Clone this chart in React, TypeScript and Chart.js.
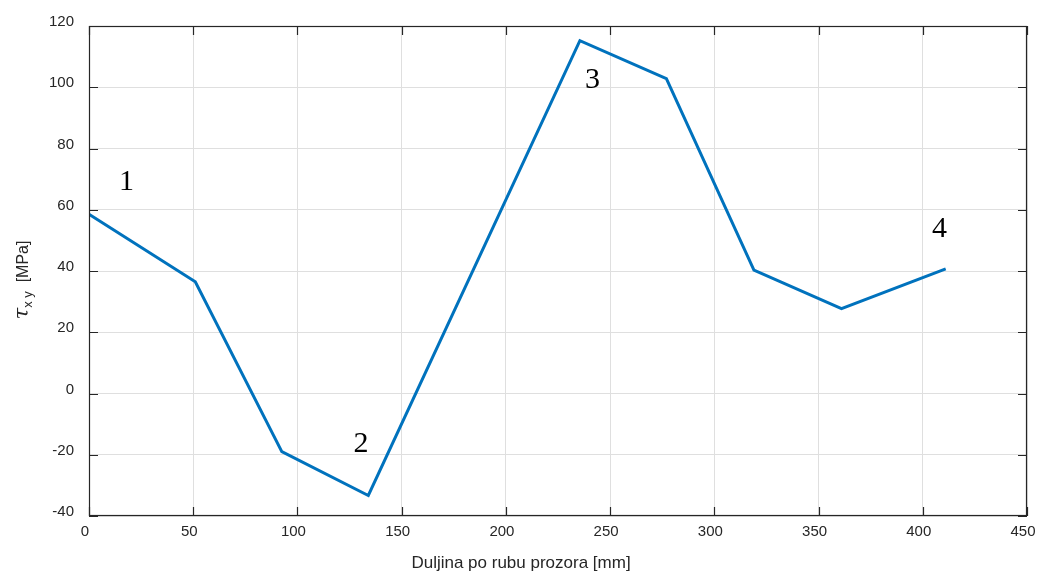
import React, { useEffect, useRef } from 'react';
import { Chart, registerables } from 'chart.js';

Chart.register(...registerables);

// Data
const positionsMm = [0, 51, 92.5, 134, 235.5, 277, 319, 361, 411];
const tauXyMPa = [58.5, 36.5, -19, -33.3, 115.2, 102.8, 40.3, 27.7, 40.7];

// Axis ticks
const xTicks = [0, 50, 100, 150, 200, 250, 300, 350, 400, 450];
const yTicks = [-40, -20, 0, 20, 40, 60, 80, 100, 120];

// Point annotations (in data coordinates)
const markerLabels = ['1', '2', '3', '4'];
const markerX = [18, 130.5, 241.5, 408];
const markerY = [69, -16.5, 102.3, 53.8];

const xTitle = 'Duljina po rubu prozora [mm]';

const AXIS_COLOR = '#262626';
const GRID_COLOR = '#dfdfdf';
const LINE_COLOR = '#0072BD';

const decorPlugin = {
  id: 'decor',
  afterDraw(chart: any) {
    const { ctx, chartArea: a, scales } = chart;
    const x = scales.x;
    const y = scales.y;
    ctx.save();
    // box
    ctx.strokeStyle = AXIS_COLOR;
    ctx.lineWidth = 1.2;
    ctx.strokeRect(a.left + 0.5, a.top + 0.5, a.right - a.left - 1, a.bottom - a.top - 1);
    // inward tick marks on all sides
    const tl = 9;
    ctx.lineWidth = 1.2;
    ctx.beginPath();
    for (const v of xTicks) {
      const px = Math.round(x.getPixelForValue(v)) + 0.5;
      ctx.moveTo(px, a.bottom);
      ctx.lineTo(px, a.bottom - tl);
      ctx.moveTo(px, a.top);
      ctx.lineTo(px, a.top + tl);
    }
    for (const v of yTicks) {
      const py = Math.round(y.getPixelForValue(v)) + 0.5;
      ctx.moveTo(a.left, py);
      ctx.lineTo(a.left + tl, py);
      ctx.moveTo(a.right, py);
      ctx.lineTo(a.right - tl, py);
    }
    ctx.stroke();

    // annotations
    ctx.fillStyle = '#000';
    ctx.font = '30px "Liberation Serif", serif';
    ctx.textAlign = 'center';
    ctx.textBaseline = 'middle';
    markerLabels.forEach((t, i) => {
      ctx.fillText(t, x.getPixelForValue(markerX[i]), y.getPixelForValue(markerY[i]));
    });

    // x title
    ctx.fillStyle = AXIS_COLOR;
    ctx.font = '17px "Liberation Sans", Arial, sans-serif';
    ctx.textAlign = 'center';
    ctx.textBaseline = 'middle';
    ctx.fillText(xTitle, 521, 563);

    // y title: tau_{x y} [MPa]
    ctx.translate(28, 280);
    ctx.rotate(-Math.PI / 2);
    ctx.textAlign = 'left';
    ctx.textBaseline = 'alphabetic';
    const tauFont = 'italic 21px "DejaVu Serif", serif';
    const subFont = '13px "Liberation Sans", Arial, sans-serif';
    const mainFont = '16px "Liberation Sans", Arial, sans-serif';
    ctx.font = tauFont;
    const wTau = ctx.measureText('τ').width;
    ctx.font = subFont;
    const wSub = ctx.measureText('x y').width;
    ctx.font = mainFont;
    const wMain = ctx.measureText('  [MPa]').width;
    let cx = -(wTau + wSub + wMain) / 2;
    ctx.font = tauFont;
    ctx.fillText('τ', cx, 0);
    cx += wTau;
    ctx.font = subFont;
    ctx.fillText('x y', cx, 4);
    cx += wSub;
    ctx.font = mainFont;
    ctx.fillText('  [MPa]', cx, 0);
    ctx.restore();
  },
};

export default function App() {
  const canvasRef = useRef<HTMLCanvasElement | null>(null);

  useEffect(() => {
    if (!canvasRef.current) return;
    const chart = new Chart(canvasRef.current, {
      type: 'line',
      data: {
        datasets: [
          {
            data: positionsMm.map((v, i) => ({ x: v, y: tauXyMPa[i] })),
            borderColor: LINE_COLOR,
            borderWidth: 3,
            pointRadius: 0,
            tension: 0,
            fill: false,
          },
        ],
      },
      options: {
        animation: false,
        responsive: false,
        events: [],
        layout: { padding: { top: 26, right: 10, left: 0, bottom: 0 } },
        plugins: {
          legend: { display: false },
          tooltip: { enabled: false },
        },
        scales: {
          x: {
            type: 'linear',
            min: 0,
            max: 450,
            afterBuildTicks: (s: any) => {
              s.ticks = xTicks.map((v) => ({ value: v }));
            },
            afterFit: (s: any) => {
              s.height = 56;
              s.paddingLeft = 0;
              s.paddingRight = 0;
            },
            grid: { color: GRID_COLOR, lineWidth: 1, drawTicks: false },
            border: { display: false },
            ticks: {
              autoSkip: false,
              maxRotation: 0,
              padding: 7,
              labelOffset: -4,
              color: AXIS_COLOR,
              font: { family: '"Liberation Sans", Arial, sans-serif', size: 15 },
            },
          },
          y: {
            type: 'linear',
            min: -40,
            max: 120,
            afterBuildTicks: (s: any) => {
              s.ticks = yTicks.map((v) => ({ value: v }));
            },
            afterFit: (s: any) => {
              s.width = 89;
              s.paddingTop = 0;
              s.paddingBottom = 0;
            },
            grid: { color: GRID_COLOR, lineWidth: 1, drawTicks: false },
            border: { display: false },
            ticks: {
              autoSkip: false,
              padding: 15,
              labelOffset: -4,
              color: AXIS_COLOR,
              font: { family: '"Liberation Sans", Arial, sans-serif', size: 15 },
            },
          },
        },
      },
      plugins: [decorPlugin],
    });
    return () => chart.destroy();
  }, []);

  return (
    <canvas
      ref={canvasRef}
      width={1037}
      height={572}
      style={{ position: 'absolute', left: 0, top: 0, width: 1037, height: 572, background: '#fff' }}
    />
  );
}
